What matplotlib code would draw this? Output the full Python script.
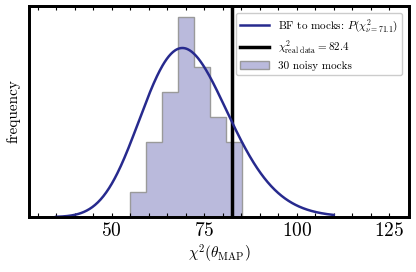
import math
import numpy as np
import matplotlib
matplotlib.use("Agg")
import matplotlib.pyplot as plt

plt.rcParams['font.family'] = 'serif'
plt.rcParams['font.serif'] = ['cmr10', 'DejaVu Serif']
plt.rcParams['mathtext.fontset'] = 'cm'
plt.rcParams['axes.unicode_minus'] = False
plt.rcParams['axes.formatter.use_mathtext'] = True

# histogram of chi2 at MAP for the noisy mocks
bin_edges = [54.9, 59.23, 63.56, 67.89, 72.21, 76.54, 80.87, 85.2]
mock_counts = [1, 3, 5, 8, 6, 4, 3]
nu_fit = 71.1
chi2_data = 82.4
curve_range = (35, 110)


def chi2_pdf(x, k):
    logp = (k / 2 - 1) * np.log(x) - x / 2 - (k / 2) * math.log(2) - math.lgamma(k / 2)
    return np.exp(logp)


fig = plt.figure(figsize=(4.16, 2.72), dpi=100)
ax = fig.add_axes([0.070, 0.202, 0.913, 0.776])
ax2 = ax.twinx()

centres = [(bin_edges[i] + bin_edges[i + 1]) / 2 for i in range(len(mock_counts))]
ax.hist(centres, bins=bin_edges, weights=mock_counts, histtype='stepfilled',
        facecolor=(0, 0, 0.5, 0.27), edgecolor='#9a9a9a', linewidth=1.0,
        label='30 noisy mocks')
vl = ax.axvline(chi2_data, color='black', lw=2.5,
                label=r'$\chi^2_{\rm real\ data} = %.1f$' % chi2_data)

xs = np.linspace(curve_range[0], curve_range[1], 400)
pdf = chi2_pdf(xs, nu_fit)
ln, = ax2.plot(xs, pdf, color='#272a8e', lw=1.8,
               label=r'BF to mocks: $P(\chi^2_{\nu=%.1f})$' % nu_fit)

ax.set_xlim(27.7, 130.3)
ax.set_ylim(0, 8.44)
ax2.set_ylim(0, pdf.max() * 211 / 169)

ax.set_xticks([50, 75, 100, 125])
ax.set_xticks(np.arange(30, 131, 5), minor=True)
ax.tick_params(axis='x', which='both', direction='in', top=True, length=3,
               width=0.8, labelsize=14)
ax.set_yticks([])
ax2.set_yticks([])
for a in (ax, ax2):
    for s in a.spines.values():
        s.set_linewidth(2)

ax.set_xlabel(r'$\chi^2(\theta_{\rm MAP})$', fontsize=11, labelpad=2)
ax.set_ylabel('frequency', fontsize=11, labelpad=6)

h1, l1 = ax2.get_legend_handles_labels()
h0, l0 = ax.get_legend_handles_labels()
ax2.legend([h1[0], vl, h0[0]], [l1[0], vl.get_label(), l0[0]],
           loc='upper right', fontsize=8, handlelength=2.6, framealpha=1,
           labelspacing=0.4, borderaxespad=0.6)

fig.savefig('out.png', dpi=100)
